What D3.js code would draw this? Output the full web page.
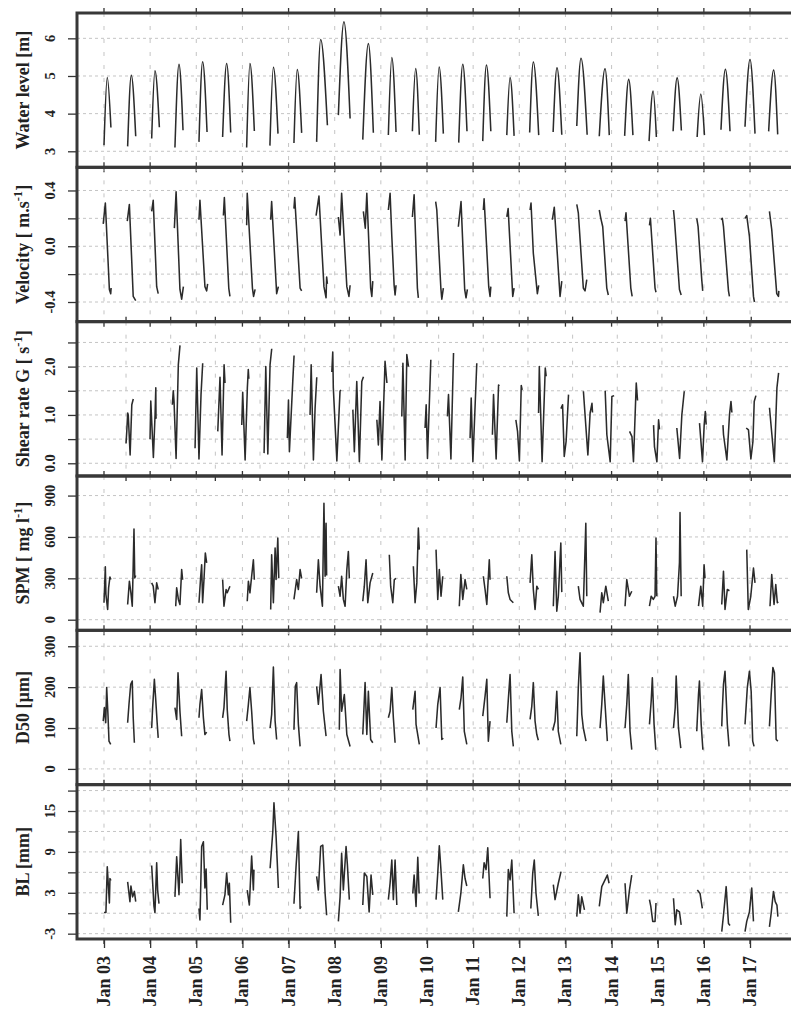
<!DOCTYPE html>
<html>
<head>
<meta charset="utf-8">
<script src="https://cdn.jsdelivr.net/npm/d3@7"></script>
<style>
  html, body { margin: 0; padding: 0; background: #fff; }
  svg { display: block; }
  text { font-family: "Liberation Serif", "Times New Roman", serif; font-weight: bold; fill: #222; }
</style>
</head>
<body>
<script>
// Each series is a list of tidal bursts; each burst is [hours since Jan 03 00:00, value].
const waterLevel = [
  [[0,3.16],[1.7,4.96],[3.6,3.63]],
  [[12.3,3.13],[14.2,5.02],[16.5,3.40]],
  [[24.8,3.34],[26.5,5.14],[28.8,3.64]],
  [[36.9,3.10],[39.0,5.31],[41.1,3.56]],
  [[49.4,3.25],[51.3,5.38],[53.6,3.51]],
  [[61.7,3.38],[63.8,5.33],[65.9,3.50]],
  [[74.2,3.10],[75.9,5.33],[78.2,3.54]],
  [[86.3,3.15],[88.1,5.23],[90.5,3.47]],
  [[98.8,3.22],[100.5,5.17],[102.8,3.49]],
  [[110.6,3.25],[112.7,5.97],[116.2,3.69]],
  [[121.9,3.96],[124.8,6.44],[128.0,3.87]],
  [[134.6,3.31],[137.5,5.86],[140.1,3.49]],
  [[147.9,3.43],[149.7,5.49],[151.9,3.51]],
  [[160.4,3.53],[162.1,5.20],[164.0,3.44]],
  [[172.5,3.25],[174.3,5.24],[176.5,3.47]],
  [[184.5,3.23],[186.6,5.31],[188.8,3.53]],
  [[197.0,3.27],[198.9,5.29],[201.2,3.53]],
  [[209.5,3.43],[211.2,4.96],[213.3,3.41]],
  [[221.4,3.50],[223.3,5.37],[226.1,3.43]],
  [[233.6,3.51],[235.6,5.22],[238.1,3.44]],
  [[245.9,3.67],[248.1,5.47],[251.3,3.44]],
  [[257.6,3.40],[260.6,5.19],[262.8,3.43]],
  [[270.8,3.41],[272.9,4.91],[275.1,3.43]],
  [[283.5,3.27],[285.6,4.60],[287.3,3.38]],
  [[296.0,3.53],[298.1,4.95],[300.3,3.55]],
  [[308.5,3.38],[310.4,4.52],[312.3,3.43]],
  [[320.9,3.57],[323.2,5.18],[325.6,3.53]],
  [[333.4,3.65],[336.0,5.44],[338.6,3.47]],
  [[345.7,3.53],[348.3,5.16],[350.4,3.45]]
];

const velocity = [
  [[-0.4,0.16],[0.7,0.31],[2.8,-0.31],[3.5,-0.34],[3.7,-0.30]],
  [[12.1,0.18],[13.2,0.30],[15.2,-0.36],[16.5,-0.39]],
  [[24.8,0.25],[25.6,0.33],[27.4,-0.29],[28.2,-0.34]],
  [[36.6,0.13],[37.5,0.39],[39.5,-0.31],[40.4,-0.38],[41.3,-0.29]],
  [[49.4,0.19],[49.9,0.33],[52.5,-0.29],[53.4,-0.32],[53.9,-0.27]],
  [[62.1,0.22],[62.6,0.35],[64.9,-0.30],[65.5,-0.36]],
  [[74.2,0.15],[74.5,0.38],[77.2,-0.30],[77.8,-0.36],[78.6,-0.31]],
  [[86.7,0.19],[87.2,0.32],[89.8,-0.34],[90.7,-0.29]],
  [[98.8,0.27],[99.2,0.35],[102.0,-0.30],[102.8,-0.32]],
  [[110.3,0.22],[111.8,0.36],[114.4,-0.29],[115.5,-0.37],[115.8,-0.22],[116.2,-0.27]],
  [[121.9,0.21],[122.8,0.08],[123.6,0.38],[126.3,-0.29],[127.4,-0.36],[128.0,-0.28]],
  [[134.9,0.25],[135.9,0.13],[136.7,0.38],[138.7,-0.30],[139.3,-0.36],[139.8,-0.25]],
  [[147.9,0.26],[148.8,0.38],[149.7,0.07],[150.9,-0.28],[151.4,-0.35],[151.9,-0.28]],
  [[160.4,0.21],[161.3,0.37],[163.0,-0.30],[163.5,-0.37]],
  [[172.5,0.32],[173.1,0.26],[175.2,-0.30],[175.7,-0.38],[176.5,-0.30]],
  [[184.3,0.14],[185.7,0.32],[187.6,-0.31],[188.3,-0.37],[189.0,-0.31]],
  [[197.3,0.26],[197.7,0.34],[200.1,-0.29],[200.8,-0.36],[201.2,-0.29]],
  [[209.5,0.21],[210.2,0.27],[212.6,-0.36],[213.3,-0.30]],
  [[221.6,0.26],[222.1,0.31],[223.3,-0.05],[225.4,-0.34],[226.1,-0.28]],
  [[233.2,0.19],[234.2,0.28],[237.2,-0.36],[238.1,-0.25]],
  [[245.9,0.30],[246.7,0.24],[249.3,-0.30],[250.2,-0.32],[251.1,-0.24]],
  [[257.6,0.26],[258.4,0.20],[259.4,0.14],[261.5,-0.30],[262.3,-0.35]],
  [[271.0,0.18],[271.5,0.24],[274.0,-0.30],[274.7,-0.36]],
  [[283.7,0.15],[284.2,0.20],[286.6,-0.30],[287.1,-0.33]],
  [[296.2,0.26],[296.7,0.19],[299.3,-0.31],[300.2,-0.35]],
  [[308.3,0.20],[309.0,0.14],[310.9,-0.24],[311.4,-0.32]],
  [[321.0,0.19],[321.6,0.20],[322.2,0.14],[324.8,-0.32],[325.3,-0.36]],
  [[333.4,0.20],[334.3,0.22],[335.7,0.07],[337.8,-0.36],[338.3,-0.40]],
  [[346.1,0.25],[347.3,0.12],[349.9,-0.34],[350.8,-0.36],[351.0,-0.32]]
];

const shearRate = [
  [[0,0.41],[0.4,0.66],[0.9,1.04],[1.2,1.0],[2.2,0.17],[3.1,1.21],[3.9,1.33]],
  [[12.9,0.50],[13.3,1.29],[14.7,0.12],[15.6,1.0],[16.0,1.56],[16.1,0.93],[16.3,0.95]],
  [[24.9,1.21],[25.4,1.50],[25.8,1.28],[26.9,0.10],[28.1,2.04],[29.0,2.44]],
  [[37.1,0.31],[38.0,1.97],[39.2,0.09],[40.3,1.42],[41.2,2.07]],
  [[49.3,0.66],[50.5,1.78],[51.6,0.17],[52.7,2.04],[53.2,1.66]],
  [[62.2,0.79],[62.7,1.47],[64.0,0.07],[65.2,1.56],[65.7,1.94],[66.0,1.75]],
  [[74.2,0.21],[75.1,2.0],[76.2,0.19],[77.4,2.04],[78.3,2.37]],
  [[86.7,0.52],[87.3,1.31],[87.8,0.24],[89.6,1.69],[90.3,2.23]],
  [[98.9,1.0],[99.5,2.04],[100.7,0.07],[101.6,1.14],[102.5,1.78]],
  [[110.6,1.89],[111.1,2.30],[111.4,1.56],[113.3,0.05],[115.0,1.49],[115.4,1.52]],
  [[121.9,1.11],[122.7,0.24],[124.0,1.69],[125.4,0.03],[126.7,1.69],[127.6,1.79]],
  [[134.8,0.90],[135.6,0.38],[136.5,1.28],[137.5,0.07],[139.2,2.11],[140.2,1.66]],
  [[148.2,0.97],[148.8,2.07],[150.0,0.07],[150.9,2.25],[151.8,2.0]],
  [[160.7,0.73],[161.3,1.21],[162.0,0.10],[163.8,2.14]],
  [[172.7,0.97],[173.3,1.42],[174.6,0.09],[176.0,2.28]],
  [[184.9,0.52],[185.5,1.35],[186.4,0.03],[188.5,2.07]],
  [[196.9,0.59],[197.5,1.42],[198.9,0.09],[200.2,1.62],[200.6,1.60]],
  [[209.5,0.90],[210.4,0.66],[211.4,0.05],[212.4,1.61],[212.9,1.52]],
  [[221.7,1.04],[222.1,2.0],[223.6,0.03],[225.3,1.97],[225.8,1.80]],
  [[233.7,1.13],[234.6,1.21],[235.5,0.14],[236.5,0.45],[237.8,1.42]],
  [[245.8,1.49],[248.2,0.17],[249.4,1.04],[250.4,1.24],[250.7,1.05]],
  [[257.5,1.50],[258.4,0.59],[260.2,0.03],[261.1,1.38],[262.3,1.40]],
  [[270.6,0.66],[271.9,0.55],[272.7,0.03],[274.2,1.66],[274.9,1.30]],
  [[283.5,0.79],[284.0,0.34],[285.3,0.03],[286.2,0.90],[286.7,0.70]],
  [[296.0,0.73],[297.5,0.10],[298.7,1.0],[300.0,1.49]],
  [[308.2,0.83],[309.8,0.03],[310.7,0.79],[311.3,1.07],[311.8,0.80]],
  [[320.8,0.79],[321.1,0.59],[322.9,0.07],[324.3,1.0],[325.1,1.28],[325.6,1.05]],
  [[333.3,0.73],[334.5,0.69],[335.8,0.09],[336.9,0.45],[337.6,1.28],[338.5,1.40]],
  [[345.8,1.15],[347.1,0.59],[348.4,0.03],[349.8,1.56],[350.7,1.87]]
];

const spm = [
  [[0,123],[0.7,383],[1.0,183],[1.9,74],[2.4,231],[3.1,310],[3.6,291]],
  [[12.3,110],[13.2,279],[14.0,195],[14.7,98],[15.2,399],[15.6,657],[16.0,303],[16.5,320]],
  [[24.8,267],[25.6,243],[26.5,123],[27.4,267],[28.2,219]],
  [[37.3,98],[37.8,231],[38.7,147],[39.5,110],[40.4,363],[40.9,290]],
  [[49.4,123],[50.3,315],[50.8,399],[51.3,123],[52.0,291],[52.7,484],[53.4,412]],
  [[61.7,291],[62.4,98],[63.5,219],[64.1,195],[65.5,243]],
  [[74.5,134],[75.1,279],[75.9,195],[76.8,315],[77.7,435],[78.2,290]],
  [[86.7,74],[87.2,471],[88.1,123],[89.0,520],[89.5,291],[90.4,592],[90.9,300]],
  [[98.8,147],[100.2,291],[101.1,219],[102.0,363],[102.8,300]],
  [[110.6,195],[111.5,435],[112.4,243],[113.6,98],[114.4,845],[115.0,315],[115.5,700],[115.8,320]],
  [[121.9,243],[122.8,170],[123.6,315],[124.5,147],[125.4,98],[126.3,363],[127.1,495],[127.6,300]],
  [[134.6,134],[135.4,243],[136.3,435],[137.2,123],[138.4,267],[139.8,339]],
  [[148.4,471],[149.1,243],[150.2,123],[151.0,291],[151.9,300]],
  [[160.9,387],[161.8,123],[162.7,267],[163.5,664],[164.0,508]],
  [[172.7,508],[173.6,147],[174.4,363],[175.3,170],[176.2,315]],
  [[184.8,98],[185.6,327],[186.6,147],[187.8,291],[188.7,220]],
  [[197.3,315],[198.2,219],[199.1,110],[200.4,435],[200.8,290]],
  [[209.5,315],[210.3,195],[211.2,147],[212.9,123]],
  [[221.6,267],[222.5,471],[223.3,219],[224.2,74],[225.1,243],[225.9,220]],
  [[233.7,98],[234.6,495],[235.5,62],[236.3,170],[237.6,556],[238.1,200]],
  [[246.7,243],[247.6,147],[249.3,98],[250.6,700],[251.1,170]],
  [[258.0,51],[258.9,195],[259.7,123],[261.0,243],[262.3,134]],
  [[271.0,98],[271.9,291],[273.3,170],[274.5,206]],
  [[283.7,98],[284.6,170],[285.7,147],[286.6,170],[287.1,592],[287.5,170]],
  [[296.2,170],[297.1,98],[298.3,170],[299.3,412],[299.6,777],[300.2,170]],
  [[309.2,98],[310.4,243],[311.4,98],[312.1,399],[312.6,300]],
  [[321.3,110],[322.2,351],[323.0,74],[324.2,219],[325.3,210]],
  [[334.3,508],[335.1,74],[336.4,170],[337.8,375],[338.6,267]],
  [[346.4,98],[347.3,327],[348.5,110],[349.4,255],[350.2,123],[350.7,130]]
];

const d50 = [
  [[-0.4,117],[0.2,150],[0.9,113],[1.4,199],[2.1,129],[2.6,68],[3.5,60]],
  [[12.3,113],[13.0,158],[13.9,207],[14.7,215],[15.2,125],[15.8,64]],
  [[24.8,100],[25.3,150],[26.2,219],[26.9,170],[27.7,109],[28.2,76]],
  [[36.9,150],[37.8,121],[38.5,235],[39.5,141],[40.4,80]],
  [[49.4,125],[49.9,158],[50.8,194],[51.7,125],[52.5,84],[53.4,90]],
  [[61.7,125],[62.4,150],[63.5,239],[64.1,145],[65.0,84],[65.5,68]],
  [[74.2,117],[75.1,158],[75.9,199],[76.8,141],[77.7,72],[78.2,60]],
  [[86.4,100],[87.2,133],[88.1,249],[89.0,117],[89.8,72]],
  [[98.8,96],[99.5,202],[100.2,211],[101.1,109],[102.0,55]],
  [[110.6,202],[111.5,158],[112.9,231],[114.1,141],[115.5,80]],
  [[122.4,96],[122.8,243],[123.6,141],[125.0,182],[126.3,84],[128.0,55]],
  [[134.6,84],[135.8,211],[136.7,84],[137.5,190],[138.7,72],[139.8,64]],
  [[147.9,125],[148.8,141],[149.7,199],[150.5,125],[151.4,64]],
  [[160.6,145],[161.8,190],[162.3,109],[164.0,60]],
  [[172.7,100],[173.6,158],[174.8,199],[175.7,72],[176.5,75]],
  [[184.8,145],[185.7,174],[186.6,225],[187.4,92],[188.7,60]],
  [[197.0,129],[198.2,178],[199.1,219],[199.9,68],[200.8,117]],
  [[209.5,113],[210.3,170],[211.2,231],[212.1,92],[212.9,55]],
  [[221.6,121],[222.5,153],[223.3,211],[224.2,117],[225.1,84],[225.9,70]],
  [[233.4,94],[234.6,117],[235.5,190],[236.3,92],[237.6,60]],
  [[245.9,80],[246.7,199],[247.6,284],[248.5,133],[249.3,100],[250.7,68]],
  [[258.0,100],[258.9,158],[259.7,227],[260.6,158],[261.8,68]],
  [[271.0,100],[271.9,158],[272.7,231],[273.6,92],[274.5,47]],
  [[283.7,109],[284.6,166],[285.2,223],[286.1,109],[287.0,47]],
  [[296.2,100],[297.1,150],[297.6,227],[298.8,100],[300.0,51]],
  [[308.3,92],[309.2,182],[309.7,215],[310.6,109],[311.5,47]],
  [[321.3,104],[321.6,145],[322.2,207],[323.0,239],[324.2,109],[325.1,55]],
  [[333.4,109],[334.6,199],[335.7,239],[336.6,190],[337.4,68],[338.1,55]],
  [[346.1,104],[347.0,182],[347.9,248],[348.7,235],[349.6,72],[350.5,68]]
];

const bedLevel = [
  [[0,0.1],[1.0,0.1],[1.7,6.8],[2.8,1.5],[3.1,5.1],[3.6,4.8]],
  [[12.3,4.6],[13.5,1.7],[14.0,4.0],[14.9,2.4],[15.8,3.2],[16.5,1.7]],
  [[24.8,7.0],[26.0,1.0],[26.5,0.1],[27.4,7.4],[27.9,3.4],[28.6,1.4]],
  [[36.9,2.4],[37.8,8.3],[39.0,2.7],[39.9,10.8],[40.7,4.4]],
  [[49.4,0.7],[49.9,-1.0],[50.8,9.8],[51.7,10.5],[52.5,3.7],[53.1,6.5],[53.7,0.5]],
  [[61.7,1.2],[62.9,2.7],[63.8,5.9],[64.7,2.7],[65.2,4.4],[65.9,-1.4]],
  [[74.5,3.4],[75.6,1.2],[76.8,8.4],[77.7,3.4],[78.0,6.4]],
  [[86.4,6.6],[87.8,12.0],[88.4,16.2],[89.5,11.3],[90.1,7.6],[90.7,3.7]],
  [[98.8,1.4],[99.9,6.9],[101.1,12.0],[102.0,0.7],[102.5,1.0]],
  [[110.6,5.4],[111.5,3.4],[112.7,9.8],[113.8,10.0],[115.0,2.9],[115.8,-0.3]],
  [[121.9,-1.2],[122.8,2.4],[123.6,8.8],[124.5,3.4],[125.9,9.8],[126.6,7.1],[127.6,2.0]],
  [[134.6,1.2],[135.4,5.9],[136.7,5.4],[137.9,0.2],[138.9,5.6],[139.8,2.7]],
  [[147.9,2.0],[148.8,4.4],[149.7,7.8],[150.5,2.0],[151.4,7.8],[152.3,1.2]],
  [[160.6,2.9],[161.3,5.6],[162.3,1.0],[163.2,8.2],[163.9,2.9]],
  [[172.7,2.0],[173.6,5.9],[174.4,9.9],[175.2,6.6],[176.2,2.0]],
  [[184.3,0.2],[185.6,2.9],[186.9,7.1],[187.8,5.1],[188.7,4.0]],
  [[197.0,5.1],[197.7,7.4],[198.7,6.4],[199.6,9.6],[200.8,2.2]],
  [[209.5,-0.5],[210.3,6.4],[211.2,4.9],[212.1,7.8],[213.3,0.0]],
  [[222.0,0.7],[223.0,5.9],[223.8,7.8],[224.7,2.9],[225.9,-0.4]],
  [[233.7,4.2],[234.6,2.0],[236.3,4.4],[237.7,6.1]],
  [[245.9,-0.5],[246.7,2.7],[247.6,0.0],[248.5,2.4],[249.9,0.5]],
  [[257.6,1.0],[258.9,3.9],[260.6,4.9],[261.8,5.6],[262.7,4.4]],
  [[271.0,4.4],[271.9,0.0],[273.3,3.4],[274.5,5.6]],
  [[283.7,2.0],[284.4,1.0],[285.4,-1.2],[286.6,-1.2],[287.1,1.5]],
  [[296.2,2.2],[297.1,-1.7],[297.9,0.5],[299.3,0.2],[300.2,-1.7]],
  [[308.6,3.4],[310.0,2.9],[311.2,0.7]],
  [[321.3,-2.7],[322.2,-0.3],[323.6,3.9],[324.8,-1.5],[325.6,-1.8]],
  [[333.4,-2.7],[334.3,-1.2],[335.7,0.2],[336.9,3.7],[337.8,-1.2]],
  [[346.1,-2.0],[347.0,0.0],[348.2,3.2],[349.1,1.7],[350.0,1.2],[350.5,-0.5]]
];

// Axis ticks and labels
const dayTickLabels = ["Jan 03","Jan 04","Jan 05","Jan 06","Jan 07","Jan 08","Jan 09","Jan 10",
                       "Jan 11","Jan 12","Jan 13","Jan 14","Jan 15","Jan 16","Jan 17"];
const wlTicks = [3, 4, 5, 6],             wlLabels = [3, 4, 5, 6];
const velTicks = [-0.4, -0.2, 0, 0.2, 0.4], velLabels = [-0.4, 0, 0.4];
const shearTicks = [0, 0.5, 1, 1.5, 2, 2.5], shearLabels = [0, 1, 2];
const spmTicks = [0, 300, 600, 900],      spmLabels = [0, 300, 600, 900];
const d50Ticks = [0, 100, 200, 300],      d50Labels = [0, 100, 200, 300];
const blTicks = [-3, 0, 3, 6, 9, 12, 15, 18], blLabels = [-3, 3, 9, 15];

// ---- layout ----
const W = 791, H = 1010;
const left = 77, right = 800;
const top0 = 13, panelH = 154.33;
const HOUR = 3600 * 1000;
const jan03 = Date.UTC(2000, 0, 3);
const at = h => new Date(jan03 + h * HOUR);
const dayDates = dayTickLabels.map((_, i) => at(24 * i));

const xMain = d3.scaleUtc().domain([at(-14.04), at(362)]).range([left, right]);
const xShear = d3.scaleUtc().domain([at(-26.35), at(362.2)]).range([left, right]);

const panels = [
  { title: ["Water level [m]"], data: waterLevel, domain: [2.574, 6.673], ticks: wlTicks, labels: wlLabels, fmt: d3.format("d"), x: xMain, curve: d3.curveMonotoneX },
  { title: ["Velocity [ m.s", "-1", "]"], data: velocity, domain: [-0.541, 0.566], ticks: velTicks, labels: velLabels, fmt: d3.format(".1f"), x: xMain, curve: d3.curveLinear },
  { title: ["Shear rate G [ s", "-1", "]"], data: shearRate, domain: [-0.263, 2.93], ticks: shearTicks, labels: shearLabels, fmt: d3.format(".1f"), x: xShear, curve: d3.curveLinear },
  { title: ["SPM [ mg l", "-1", "]"], data: spm, domain: [-77, 1042], ticks: spmTicks, labels: spmLabels, fmt: d3.format("d"), x: xMain, curve: d3.curveLinear },
  { title: ["D50 [\u00b5m]"], data: d50, domain: [-38.5, 339], ticks: d50Ticks, labels: d50Labels, fmt: d3.format("d"), x: xMain, curve: d3.curveLinear },
  { title: ["BL [mm]"], data: bedLevel, domain: [-3.78, 18.87], ticks: blTicks, labels: blLabels, fmt: d3.format("d"), x: xMain, curve: d3.curveLinear }
];

const svg = d3.select("body").append("svg").attr("width", W).attr("height", H);
// plain hyphen for negative numbers, as in the printed axes
const hyphen = s => s.replace("\u2212", "-");

panels.forEach((p, i) => {
  const y0 = top0 + i * panelH, y1 = y0 + panelH;
  const y = d3.scaleLinear().domain(p.domain).range([y1, y0]);
  const g = svg.append("g");
  const clipId = "clip" + i;
  svg.append("clipPath").attr("id", clipId)
    .append("rect").attr("x", left).attr("y", y0).attr("width", right - left).attr("height", panelH);

  // grid
  g.append("g").selectAll("line").data(p.ticks).join("line")
    .attr("x1", left).attr("x2", right).attr("y1", d => y(d)).attr("y2", d => y(d))
    .attr("stroke", "#c4c4c4").attr("stroke-width", 1).attr("stroke-dasharray", "3,3");
  g.append("g").selectAll("line").data(dayDates).join("line")
    .attr("x1", d => p.x(d)).attr("x2", d => p.x(d)).attr("y1", y0).attr("y2", y1)
    .attr("stroke", "#c4c4c4").attr("stroke-width", 1).attr("stroke-dasharray", "4,9");

  // data
  const line = d3.line().x(d => p.x(at(d[0]))).y(d => y(d[1])).curve(p.curve);
  g.append("g").attr("clip-path", `url(#${clipId})`)
    .selectAll("path").data(p.data).join("path")
    .attr("d", line).attr("fill", "none").attr("stroke", "#2b2b2b")
    .attr("stroke-width", 1.55).attr("stroke-linejoin", "round");

  // left axis
  const ax = g.append("g").attr("transform", `translate(${left},0)`)
    .call(d3.axisLeft(y).tickValues(p.ticks).tickSize(9).tickFormat(""));
  ax.select(".domain").remove();
  ax.selectAll("line").attr("stroke", "#333").attr("stroke-width", 1.3);
  g.append("g").selectAll("text").data(p.labels).join("text")
    .attr("transform", d => `translate(55,${y(d)}) rotate(-90)`)
    .attr("text-anchor", "middle").attr("font-size", 14.5)
    .text(d => hyphen(p.fmt(d)));

  // top / bottom day ticks at the panel border
  const ticksG = g.append("g");
  ticksG.selectAll("line.b").data(dayDates).join("line").attr("class", "b")
    .attr("x1", d => p.x(d)).attr("x2", d => p.x(d)).attr("y1", y1).attr("y2", y1 + 5)
    .attr("stroke", "#333").attr("stroke-width", 1.3);
  ticksG.selectAll("line.t").data(dayDates).join("line").attr("class", "t")
    .attr("x1", d => p.x(d)).attr("x2", d => p.x(d)).attr("y1", y0).attr("y2", y0 - 5)
    .attr("stroke", "#333").attr("stroke-width", 1.3);

  // title
  const t = g.append("text")
    .attr("transform", `translate(29,${(y0 + y1) / 2}) rotate(-90)`)
    .attr("text-anchor", "middle").attr("font-size", 18);
  t.append("tspan").text(p.title[0]);
  if (p.title.length > 1) {
    t.append("tspan").attr("font-size", 12.5).attr("dy", -7).text(p.title[1]);
    t.append("tspan").attr("dy", 7).text(p.title[2]);
  }
});

// panel frames (drawn last so they sit above grid ends)
panels.forEach((p, i) => {
  const y0 = top0 + i * panelH;
  svg.append("rect").attr("x", left).attr("y", y0).attr("width", right + 10 - left).attr("height", panelH)
    .attr("fill", "none").attr("stroke", "#383838").attr("stroke-width", 3);
});

// bottom date axis
const yb = top0 + 6 * panelH;
const xa = svg.append("g").attr("transform", `translate(0,${yb})`)
  .call(d3.axisBottom(xMain).tickValues(dayDates).tickSize(9).tickFormat(""));
xa.select(".domain").remove();
xa.selectAll("line").attr("stroke", "#333").attr("stroke-width", 1.3);
svg.append("g").selectAll("text").data(dayDates).join("text")
  .attr("transform", (d, i) => `translate(${xMain(d) + 6},${yb + 17}) rotate(-90)`)
  .attr("text-anchor", "end").attr("font-size", 18)
  .text((d, i) => dayTickLabels[i]);
</script>
</body>
</html>
